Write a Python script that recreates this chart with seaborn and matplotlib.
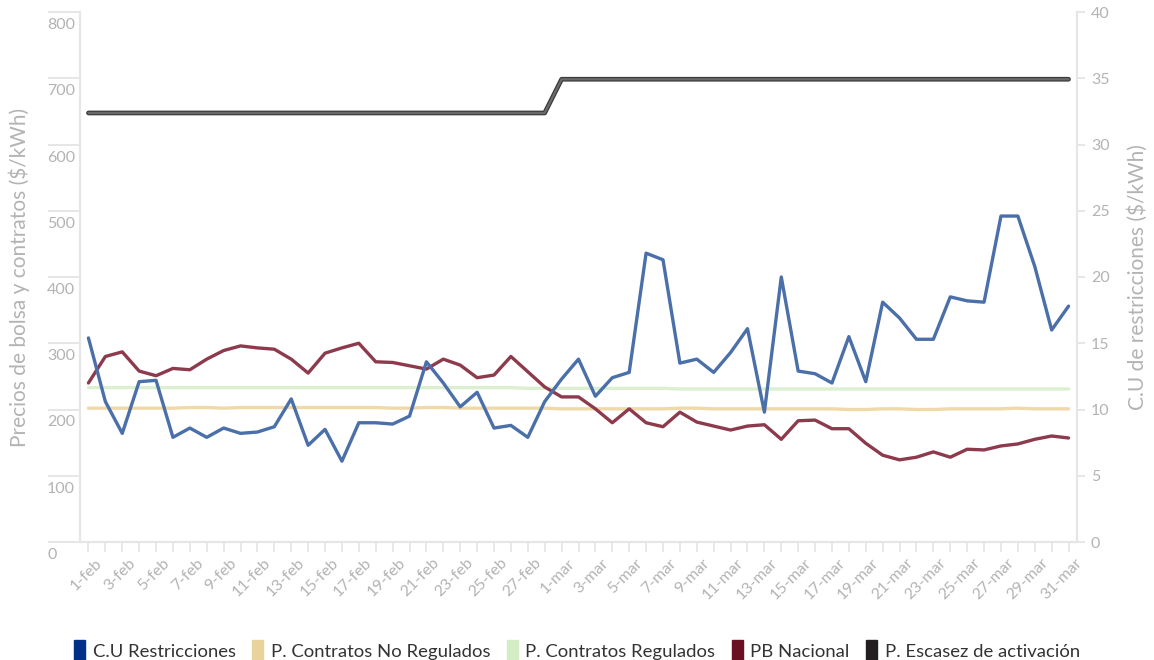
import numpy as np
import pandas as pd
import matplotlib
matplotlib.use("Agg")
import matplotlib.pyplot as plt
import matplotlib.transforms as mtransforms
from matplotlib.patches import Patch
import seaborn as sns

# ---- data -------------------------------------------------------------
fechas = [f"{d}-feb" for d in range(1, 29)] + [f"{d}-mar" for d in range(1, 32)]

cu_restricciones = [  # $/kWh (right axis)
    15.4, 10.6, 8.2, 12.1, 12.2, 7.9, 8.6, 7.9, 8.6, 8.2,
    8.3, 8.7, 10.8, 7.3, 8.5, 6.1, 9.0, 9.0, 8.9, 9.5,
    13.6, 12.0, 10.2, 11.3, 8.6, 8.8, 7.9, 10.6, 12.3, 13.8,
    11.0, 12.4, 12.8, 21.8, 21.3, 13.5, 13.8, 12.8, 14.3, 16.1,
    9.8, 20.0, 12.9, 12.7, 12.0, 15.5, 12.1, 18.1, 16.9, 15.3,
    15.3, 18.5, 18.2, 18.1, 24.6, 24.6, 20.8, 16.0, 17.8,
]

contratos_no_regulados = [
    202, 202, 202, 202, 202, 202, 203, 203, 202, 203,
    203, 203, 203, 203, 203, 203, 203, 203, 202, 202,
    203, 203, 202, 202, 202, 202, 202, 202, 201, 201,
    201, 201, 201, 201, 201, 202, 202, 201, 201, 201,
    201, 201, 201, 201, 201, 200, 200, 201, 201, 200,
    200, 201, 201, 201, 201, 202, 201, 201, 201,
]

contratos_regulados = [
    233, 233, 233, 233, 233, 233, 233, 233, 233, 233,
    233, 233, 233, 233, 233, 233, 233, 233, 233, 233,
    233, 233, 233, 233, 233, 233, 232, 232, 232, 232,
    232, 232, 232, 232, 232, 231, 231, 231, 231, 231,
    231, 231, 231, 231, 231, 231, 231, 231, 231, 231,
    231, 231, 231, 231, 231, 231, 231, 231, 231,
]

pb_nacional = [
    240, 280, 287, 258, 251, 262, 260, 276, 289, 296,
    293, 291, 276, 255, 285, 293, 300, 272, 271, 266,
    261, 276, 267, 248, 252, 280, 257, 234, 219, 219,
    201, 180, 201, 180, 174, 196, 181, 175, 169, 175,
    177, 155, 183, 184, 171, 171, 149, 131, 124, 128,
    136, 128, 140, 139, 145, 148, 155, 160, 157,
]

escasez_activacion = [647.6] * 28 + [698.5] * 31

series_names = [
    "C.U Restricciones",
    "P. Contratos No Regulados",
    "P. Contratos Regulados",
    "PB Nacional",
    "P. Escasez de activación",
]
legend_colors = ["#003087", "#e8d39c", "#d5edc7", "#6b0f22", "#231f20"]
line_colors = ["#4a6fa9", "#f0d9a8", "#dcefd0", "#8c3a4c", "#555555"]

# ---- figure -----------------------------------------------------------
sns.set_theme(style="white")
plt.rcParams["font.family"] = ["Lato", "DejaVu Sans"]

fig = plt.figure(figsize=(11.54, 6.60), dpi=100)
ax = fig.add_axes([80 / 1154, 118 / 660, 997 / 1154, 530 / 660])
ax2 = ax.twinx()

df = pd.DataFrame({
    "dia": np.arange(len(fechas)),
    "no_reg": contratos_no_regulados,
    "reg": contratos_regulados,
    "pb": pb_nacional,
    "escasez": escasez_activacion,
    "cu": cu_restricciones,
})

lw = 2.4
kw = dict(solid_joinstyle="round", solid_capstyle="round")
sns.lineplot(data=df, x="dia", y="reg", ax=ax, color=line_colors[2], lw=lw, **kw)
sns.lineplot(data=df, x="dia", y="no_reg", ax=ax, color=line_colors[1], lw=lw, **kw)
sns.lineplot(data=df, x="dia", y="pb", ax=ax, color=line_colors[3], lw=lw, **kw)
sns.lineplot(data=df, x="dia", y="escasez", ax=ax, color="#3c3c3c", lw=3.4, **kw)
sns.lineplot(data=df, x="dia", y="escasez", ax=ax, color="#6a6a6a", lw=1.6, **kw)
sns.lineplot(data=df, x="dia", y="cu", ax=ax2, color=line_colors[0], lw=lw, **kw)

grey_line = "#e6e6e6"
grey_text = "#b3b3b3"

ax.set_xlim(-0.5, len(fechas) - 0.5)
ax.set_ylim(0, 800)
ax2.set_ylim(0, 40)

# x axis: a tick every day, a label every second day
ax.set_xticks(np.arange(len(fechas)))
ax.set_xticklabels([f if i % 2 == 0 else "" for i, f in enumerate(fechas)],
                   rotation=45, ha="right", rotation_mode="anchor",
                   fontsize=11.5, color=grey_text)
ax.tick_params(axis="x", direction="out", length=7, width=1.3, color=grey_line,
               pad=3, bottom=True)
shift = mtransforms.ScaledTranslation(6 / 100, 0, fig.dpi_scale_trans)
for lab in ax.get_xticklabels():
    lab.set_transform(lab.get_transform() + shift)

# left axis: long tick stubs with labels sitting just under them
left_ticks = [0, 100, 200, 300, 400, 500, 600, 700, 800]
ax.set_yticks(left_ticks)
ax.tick_params(axis="y", direction="out", length=23, width=1.4, color=grey_line,
               labelleft=False, left=True)
lab_tr = mtransforms.offset_copy(ax.get_yaxis_transform(), fig=fig, x=0, y=-13, units="dots")
for v in left_ticks:
    ax.text(-33 / 997, v, str(v), transform=lab_tr, ha="left", va="center",
            fontsize=11.5, color=grey_text)

# right axis
ax2.set_yticks([0, 5, 10, 15, 20, 25, 30, 35, 40])
ax2.tick_params(axis="y", direction="out", length=6, width=1.4, color=grey_line,
                labelsize=11.5, labelcolor=grey_text, pad=4, right=True)

for a in (ax, ax2):
    for s in a.spines.values():
        s.set_visible(False)
ax.spines["left"].set_visible(True)
ax.spines["bottom"].set_visible(True)
ax2.spines["right"].set_visible(True)
for s in (ax.spines["left"], ax.spines["bottom"], ax2.spines["right"]):
    s.set_color(grey_line)
    s.set_linewidth(1.6)

ax.set_xlabel("")
ax.set_ylabel("Precios de bolsa y contratos ($/kWh)", fontsize=15, color=grey_text)
ax.yaxis.set_label_coords(-50 / 997, 0.5)
ax2.set_ylabel("C.U de restricciones ($/kWh)", fontsize=15, color=grey_text)
ax2.yaxis.set_label_coords(1047 / 997, 0.5)
ax.grid(False)
ax2.grid(False)

handles = [Patch(facecolor=c, edgecolor=c) for c in legend_colors]
fig.legend(handles, series_names, loc="lower center", bbox_to_anchor=(0.5, -0.026),
           ncol=5, frameon=False, fontsize=13.3, handlelength=0.6, handleheight=1.3,
           handletextpad=0.4, columnspacing=0.9, labelcolor="#333333")

fig.savefig("out.png", dpi=100)
